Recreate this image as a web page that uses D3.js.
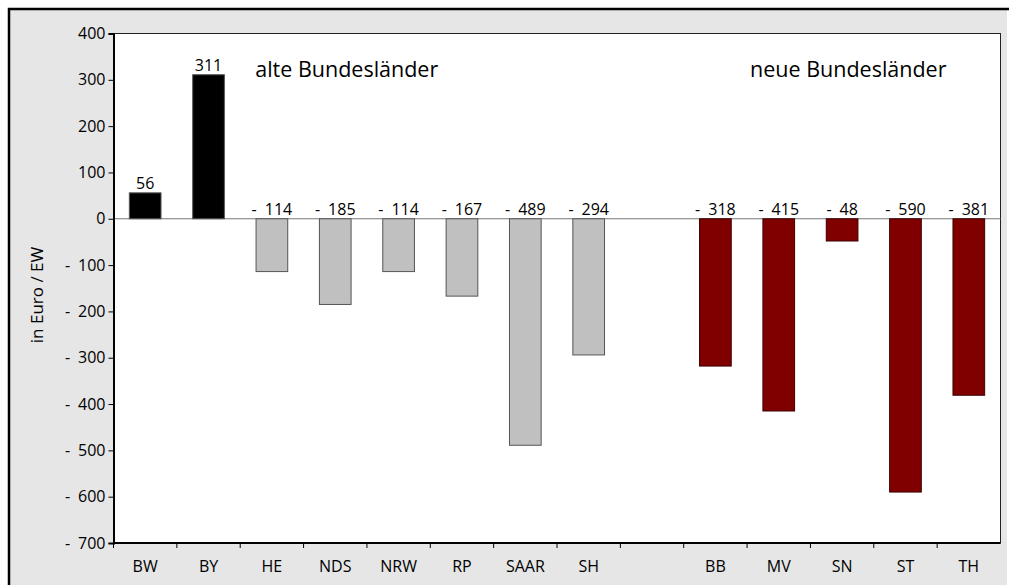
<!DOCTYPE html>
<html>
<head>
<meta charset="utf-8">
<script src="https://cdn.jsdelivr.net/npm/d3@7"></script>
<style>
  body { margin: 0; background: #fff; }
  text { font-family: "Open Sans", sans-serif; }
</style>
</head>
<body>
<div id="chart"></div>
<script>
// Länder, with an empty slot between west and east
const laender = ["BW", "BY", "HE", "NDS", "NRW", "RP", "SAAR", "SH", "", "BB", "MV", "SN", "ST", "TH"];
const werte   = [56, 311, -114, -185, -114, -167, -489, -294, null, -318, -415, -48, -590, -381];
const gruppe  = ["alt", "alt", "alt", "alt", "alt", "alt", "alt", "alt", null, "neu", "neu", "neu", "neu", "neu"];
const yTicks  = [400, 300, 200, 100, 0, -100, -200, -300, -400, -500, -600, -700];

const W = 1009, H = 585;
const margin = {top: 33.5, right: 8.5, bottom: 42, left: 113.5};
const width = W - margin.left - margin.right,
      height = H - margin.top - margin.bottom;

const svg = d3.select("#chart").append("svg")
    .attr("width", W).attr("height", H);

// grey frame
svg.append("rect")
    .attr("x", 9).attr("y", 9).attr("width", 998).attr("height", 580)
    .attr("fill", "#e6e6e6");
svg.append("path")
    .attr("d", "M9,590V9H1009")
    .attr("fill", "none").attr("stroke", "#000").attr("stroke-width", 2.5);

const g = svg.append("g").attr("transform", `translate(${margin.left},${margin.top})`);

g.append("rect")
    .attr("width", width).attr("height", height)
    .attr("fill", "#fff").attr("stroke", "#222").attr("stroke-width", 1);

const data = laender.map((d, i) => ({key: i, name: d, v: werte[i], grp: gruppe[i]}));

const x = d3.scaleBand()
    .domain(data.map(d => d.key))
    .range([0, width]);

const y = d3.scaleLinear()
    .domain([-700, 400])
    .range([height, 0]);

// "- 114" style, wide gap after the minus
const fmt = v => v < 0 ? "-\u2002" + Math.abs(v) : String(v);

// zero line
g.append("line")
    .attr("x1", 0).attr("x2", width)
    .attr("y1", y(0)).attr("y2", y(0))
    .attr("stroke", "#777").attr("stroke-width", 1);

// bars
const bw = x.bandwidth() * 0.5;
g.selectAll(".bar")
    .data(data.filter(d => d.v !== null))
    .enter().append("rect")
    .attr("x", d => x(d.key) + (x.bandwidth() - bw) / 2)
    .attr("y", d => y(Math.max(0, d.v)))
    .attr("width", bw)
    .attr("height", d => Math.abs(y(d.v) - y(0)))
    .attr("fill", d => d.grp === "neu" ? "#800000" : (d.v > 0 ? "#000" : "#c0c0c0"))
    .attr("stroke", d => d.grp === "neu" ? "#3a0000" : "#555")
    .attr("stroke-width", 1);

// value labels
g.selectAll(".lbl")
    .data(data.filter(d => d.v !== null))
    .enter().append("text")
    .attr("x", d => x(d.key) + x.bandwidth() / 2)
    .attr("y", d => y(Math.max(0, d.v)) - 3.5)
    .attr("text-anchor", "middle")
    .style("font-size", "16px")
    .attr("fill", "#000")
    .text(d => fmt(d.v));

// y axis
const yAxis = g.append("g")
    .call(d3.axisLeft(y).tickValues(yTicks).tickSize(5).tickPadding(3).tickFormat(fmt));
yAxis.select(".domain").attr("stroke", "#000").attr("stroke-width", 2);
yAxis.selectAll(".tick line").attr("stroke", "#000");
yAxis.selectAll(".tick text").style("font-size", "16px").attr("fill", "#000");

// x axis, ticks on category borders
const xAxis = g.append("g").attr("transform", `translate(0,${height})`);
xAxis.append("line")
    .attr("x1", 0).attr("x2", width)
    .attr("stroke", "#000").attr("stroke-width", 2);
xAxis.selectAll(".xt")
    .data(data)
    .enter().append("line")
    .attr("x1", d => x(d.key)).attr("x2", d => x(d.key))
    .attr("y1", 0).attr("y2", 5)
    .attr("stroke", "#000");
xAxis.selectAll(".xl")
    .data(data)
    .enter().append("text")
    .attr("x", d => x(d.key) + x.bandwidth() / 2)
    .attr("y", 29)
    .attr("text-anchor", "middle")
    .style("font-size", "16px")
    .text(d => d.name);

// axis title
svg.append("text")
    .attr("transform", "rotate(-90)")
    .attr("x", -295).attr("y", 43)
    .attr("text-anchor", "middle")
    .style("font-size", "17px")
    .text("in Euro / EW");

// group captions
g.append("text")
    .attr("x", x(2) + 15).attr("y", 77.3 - margin.top)
    .style("font-size", "21.5px")
    .text("alte Bundesländer");
g.append("text")
    .attr("x", x(10) + 3).attr("y", 77.3 - margin.top)
    .style("font-size", "21.5px")
    .text("neue Bundesländer");
</script>
</body>
</html>
